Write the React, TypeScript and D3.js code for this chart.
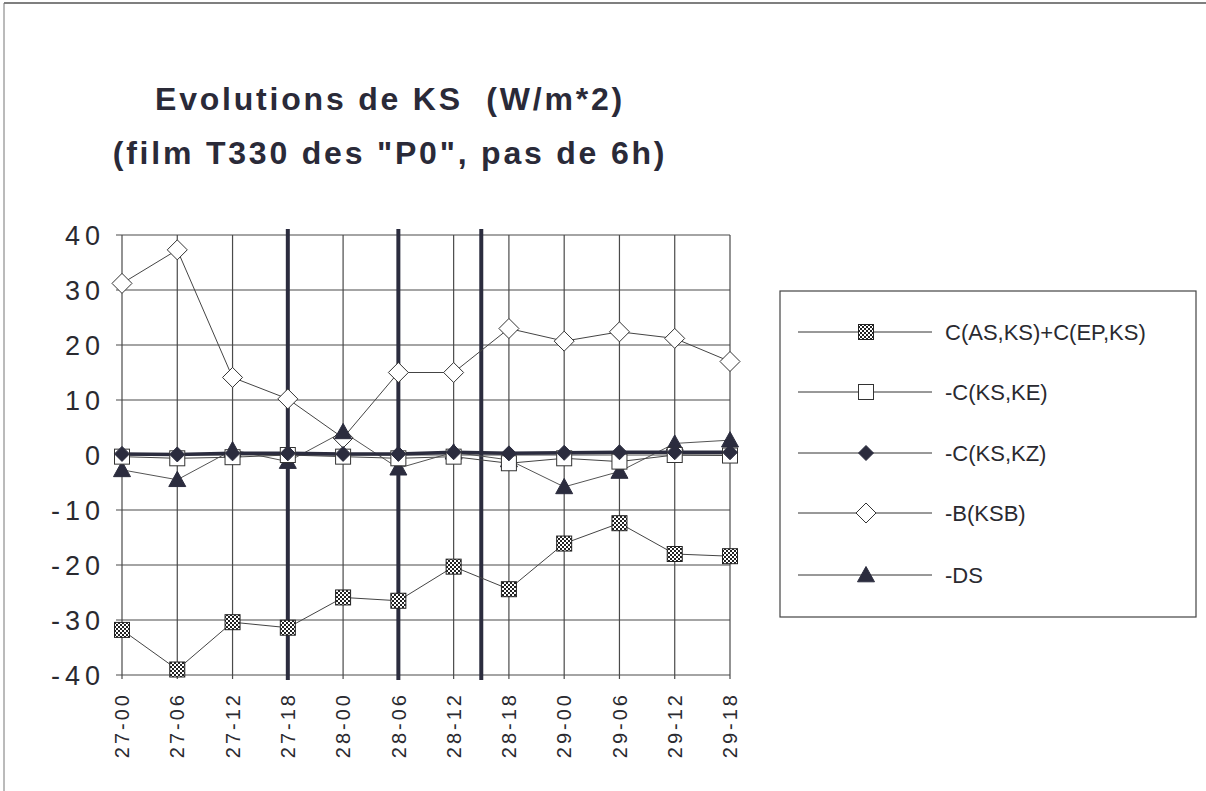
import React from "react";
import * as d3 from "d3";

const categories = ["27-00", "27-06", "27-12", "27-18", "28-00", "28-06", "28-12", "28-18", "29-00", "29-06", "29-12", "29-18"];
const yTicks = [-40, -30, -20, -10, 0, 10, 20, 30, 40];

const seriesCAS = [-31.8, -39.0, -30.4, -31.4, -25.9, -26.5, -20.3, -24.4, -16.1, -12.4, -18.0, -18.4];
const seriesKE = [-0.3, -0.6, -0.4, 0.0, -0.3, -0.6, -0.3, -1.5, -0.6, -1.2, 0.0, -0.1];
const seriesKZ = [0.2, 0.1, 0.3, 0.3, 0.2, 0.2, 0.5, 0.3, 0.4, 0.5, 0.5, 0.5];
const seriesKSB = [31.2, 37.3, 14.1, 10.2, 3.1, 15.0, 15.0, 23.0, 20.7, 22.4, 21.2, 17.0];
const seriesDS = [-2.7, -4.5, 0.9, -1.2, 4.2, -2.4, 0.5, -0.9, -5.8, -3.0, 2.1, 2.7];

const legendLabels = ["C(AS,KS)+C(EP,KS)", "-C(KS,KE)", "-C(KS,KZ)", "-B(KSB)", "-DS"];
// thick hand-drawn separator lines (category index positions)
const separatorPositions = [3, 5, 6.5];

const titleLines = ["Evolutions de KS  (W/m*2)", "(film T330 des \"P0\", pas de 6h)"];

const FONT = "'Liberation Sans', Arial, sans-serif";
const DARK = "#2b2c3e";

type MarkerKind = "check" | "square" | "diamondFill" | "diamondOpen" | "triangle";

function Marker({ kind, x, y }: { kind: MarkerKind; x: number; y: number }) {
  if (kind === "check") {
    const s = 15;
    return <rect x={x - s / 2} y={y - s / 2} width={s} height={s} fill="url(#checks)" stroke="#222" strokeWidth={1} />;
  }
  if (kind === "square") {
    const s = 15;
    return <rect x={x - s / 2} y={y - s / 2} width={s} height={s} fill="#fff" stroke="#333" strokeWidth={1} />;
  }
  if (kind === "diamondFill") {
    const r = 7.5;
    return <path d={`M${x},${y - r}L${x + r},${y}L${x},${y + r}L${x - r},${y}Z`} fill={DARK} stroke={DARK} strokeWidth={1} />;
  }
  if (kind === "diamondOpen") {
    const r = 10;
    return <path d={`M${x},${y - r}L${x + r},${y}L${x},${y + r}L${x - r},${y}Z`} fill="#fff" stroke="#333" strokeWidth={1} />;
  }
  const r = 8.5;
  return <path d={`M${x},${y - r}L${x + r},${y + r * 0.8}L${x - r},${y + r * 0.8}Z`} fill={DARK} stroke={DARK} strokeWidth={1} />;
}

export default function App() {
  const x = d3.scaleLinear().domain([0, categories.length - 1]).range([122, 730]);
  const y = d3.scaleLinear().domain([-40, 40]).range([675, 235]);
  const line = d3.line<number>().x((_, i) => x(i)).y((d) => y(d));

  const series: { data: number[]; kind: MarkerKind; width: number; color: string }[] = [
    { data: seriesCAS, kind: "check", width: 1, color: "#444" },
    { data: seriesKE, kind: "square", width: 1, color: "#444" },
    { data: seriesKZ, kind: "diamondFill", width: 3.5, color: DARK },
    { data: seriesKSB, kind: "diamondOpen", width: 1, color: "#444" },
    { data: seriesDS, kind: "triangle", width: 1, color: "#555" },
  ];
  const drawOrder = [0, 3, 4, 1, 2];

  const legendRowY = [332, 392, 453, 513, 575];

  return (
    <svg width={1206} height={791} style={{ position: "absolute", left: 0, top: 0, background: "#fff" }} fontFamily={FONT}>
      <defs>
        <pattern id="checks" width={4} height={4} patternUnits="userSpaceOnUse">
          <rect width={4} height={4} fill="#fff" />
          <rect width={2} height={2} fill="#222" />
          <rect x={2} y={2} width={2} height={2} fill="#222" />
        </pattern>
      </defs>
      {/* outer frame */}
      <line x1={4} y1={3} x2={1206} y2={3} stroke="#555" strokeWidth={1.5} />
      <line x1={4} y1={3} x2={4} y2={791} stroke="#777" strokeWidth={1} />

      {/* title */}
      {titleLines.map((t, i) => (
        <text key={i} x={390} y={110 + i * 54} textAnchor="middle" fontSize={32} fontWeight="bold" letterSpacing={2.8} fill="#2a2a38" style={{ whiteSpace: "pre" }}>
          {t}
        </text>
      ))}

      {/* horizontal gridlines */}
      {yTicks.map((t) => (
        <line key={"h" + t} x1={116} x2={730} y1={y(t)} y2={y(t)} stroke="#4a4a4a" strokeWidth={1.2} />
      ))}
      {/* vertical gridlines */}
      {categories.map((c, i) => (
        <line key={"v" + c} x1={x(i)} x2={x(i)} y1={y(40)} y2={y(-40) + 4} stroke="#4a4a4a" strokeWidth={1.2} />
      ))}
      {/* y labels */}
      {yTicks.map((t) => (
        <text key={"yl" + t} x={105} y={y(t)} dy="0.36em" textAnchor="end" fontSize={27} letterSpacing={5} fill="#2a2a30">
          {t}
        </text>
      ))}
      {/* x labels */}
      {categories.map((c, i) => (
        <text key={"xl" + c} transform={`translate(${x(i)},692) rotate(-90)`} textAnchor="end" dy="0.36em" fontSize={20} letterSpacing={3} fill="#2a2a30">
          {c}
        </text>
      ))}

      {/* separators */}
      {separatorPositions.map((p, i) => (
        <line key={"s" + i} x1={x(p)} x2={x(p)} y1={229} y2={680} stroke={DARK} strokeWidth={4} />
      ))}

      {/* series lines */}
      {drawOrder.map((si) => (
        <path key={"l" + si} d={line(series[si].data) || ""} fill="none" stroke={series[si].color} strokeWidth={series[si].width} />
      ))}
      {/* markers */}
      {drawOrder.map((si) =>
        series[si].data.map((v, i) => <Marker key={`m${si}-${i}`} kind={series[si].kind} x={x(i)} y={y(v)} />)
      )}

      {/* legend */}
      <rect x={780} y={291} width={416} height={326} fill="#fff" stroke="#444" strokeWidth={1.2} />
      {legendLabels.map((lab, i) => (
        <g key={"lg" + i}>
          <line x1={798} x2={932} y1={legendRowY[i]} y2={legendRowY[i]} stroke="#333" strokeWidth={1} />
          <Marker kind={series[i].kind} x={866} y={legendRowY[i]} />
          <text x={945} y={legendRowY[i]} dy="0.36em" fontSize={22} fill="#2a2a30">
            {lab}
          </text>
        </g>
      ))}
    </svg>
  );
}
